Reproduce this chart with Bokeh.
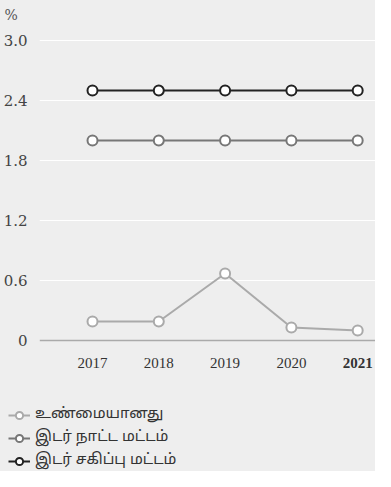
from bokeh.plotting import figure
from bokeh.layouts import column
from bokeh.models import Range1d, FixedTicker, Legend, LegendItem, Span, ColumnDataSource
from bokeh.embed import file_html
from bokeh.resources import INLINE

years = [2017, 2018, 2019, 2020, 2021]
actual = [0.19, 0.19, 0.67, 0.13, 0.10]
threshold = [2.0, 2.0, 2.0, 2.0, 2.0]
tolerance = [2.5, 2.5, 2.5, 2.5, 2.5]
series_names = ["உண்மையானது", "இடர் நாட்ட மட்டம்", "இடர் சகிப்பு மட்டம்"]
y_ticks = [0, 0.6, 1.2, 1.8, 2.4, 3.0]
y_tick_labels = ["0", "0.6", "1.2", "1.8", "2.4", "3.0"]
year_labels = ["2017", "2018", "2019", "2020", "2021"]
year_styles = ["normal", "normal", "normal", "normal", "bold"]
unit_label = "%"

BG = "#eeeeee"
SERIF = "DejaVu Serif"
colors = ["#aaaaaa", "#777777", "#222222"]

W = 375
PX_PER_YEAR = 66.3
X0 = 92          # pixel of first year
LEFT = 39        # left edge of plotting frame
MAIN_H = 352
BOT_H = 119

# ---------------- main chart ----------------
p = figure(width=W, height=MAIN_H, output_backend="svg", toolbar_location=None,
           x_range=Range1d(years[0] - (X0 - LEFT) / PX_PER_YEAR, years[0] + (W - X0) / PX_PER_YEAR),
           y_range=Range1d(-0.03, 3.13), x_axis_type=None,
           min_border_left=LEFT, min_border_right=0, min_border_top=27, min_border_bottom=9,
           frame_align=False)
p.background_fill_color = BG
p.border_fill_color = BG
p.outline_line_color = None

p.title.text = unit_label
p.title.text_font = SERIF
p.title.text_font_size = "14px"
p.title.text_font_style = "normal"
p.title.text_color = "#555555"
p.title.align = "left"
p.title.offset = -35
p.title.standoff = 9

p.ygrid.grid_line_color = "white"
p.ygrid.grid_line_width = 1
p.ygrid.ticker = FixedTicker(ticks=y_ticks)

p.yaxis.ticker = FixedTicker(ticks=y_ticks)
p.yaxis.major_label_overrides = {t: l for t, l in zip(y_ticks, y_tick_labels)}
p.yaxis.axis_line_color = None
p.yaxis.major_tick_line_color = None
p.yaxis.minor_tick_line_color = None
p.yaxis.major_label_standoff = 6
p.yaxis.major_label_text_font = SERIF
p.yaxis.major_label_text_font_size = "15px"
p.yaxis.major_label_text_color = "#444444"

p.add_layout(Span(location=0, dimension="width", line_color="#aaaaaa", line_width=1.5))

series = [actual, threshold, tolerance]
for vals, col in zip(series, colors):
    p.line(years, vals, line_color=col, line_width=2)
    p.scatter(years, vals, size=10, fill_color="white", line_color=col, line_width=2)

# ---------------- x labels + legend ----------------
b = figure(width=W, height=BOT_H, output_backend="svg", toolbar_location=None,
           x_range=Range1d(years[0] - X0 / PX_PER_YEAR, years[0] + (W - X0) / PX_PER_YEAR),
           y_range=Range1d(-BOT_H, 0), x_axis_type=None, y_axis_type=None,
           min_border=0, min_border_left=0, min_border_right=0,
           min_border_top=0, min_border_bottom=0, frame_align=False)
b.background_fill_color = BG
b.border_fill_color = BG
b.outline_line_color = None

src = ColumnDataSource(dict(x=years, y=[0] * len(years), t=year_labels, s=year_styles))
b.text(x="x", y="y", text="t", source=src, y_offset=10, text_font_style="s",
       text_font="DejaVu Serif", text_font_size="15px",
       text_color="#333333", text_align="center", text_baseline="middle")

items = []
for vals, col, name in zip(series, colors, series_names):
    l = b.line(years, vals, line_color=col, line_width=2, visible=False)
    s = b.scatter(years, vals, size=10, fill_color="white", line_color=col,
                  line_width=2, visible=False)
    items.append(LegendItem(label=name, renderers=[l, s]))

legend = Legend(items=items, location=(8, 1), orientation="vertical",
                background_fill_alpha=0, border_line_color=None,
                inactive_fill_alpha=0,
                margin=0, padding=0, spacing=4, glyph_width=22, glyph_height=18,
                label_height=18, label_standoff=5,
                label_text_font="Noto Sans Tamil, Noto Sans", label_text_font_size="15px",
                label_text_color="#333333")
b.add_layout(legend, "center")

layout = column(p, b, spacing=0)
layout.styles = {"background-color": BG}

open("out.html", "w").write(file_html(layout, INLINE))
